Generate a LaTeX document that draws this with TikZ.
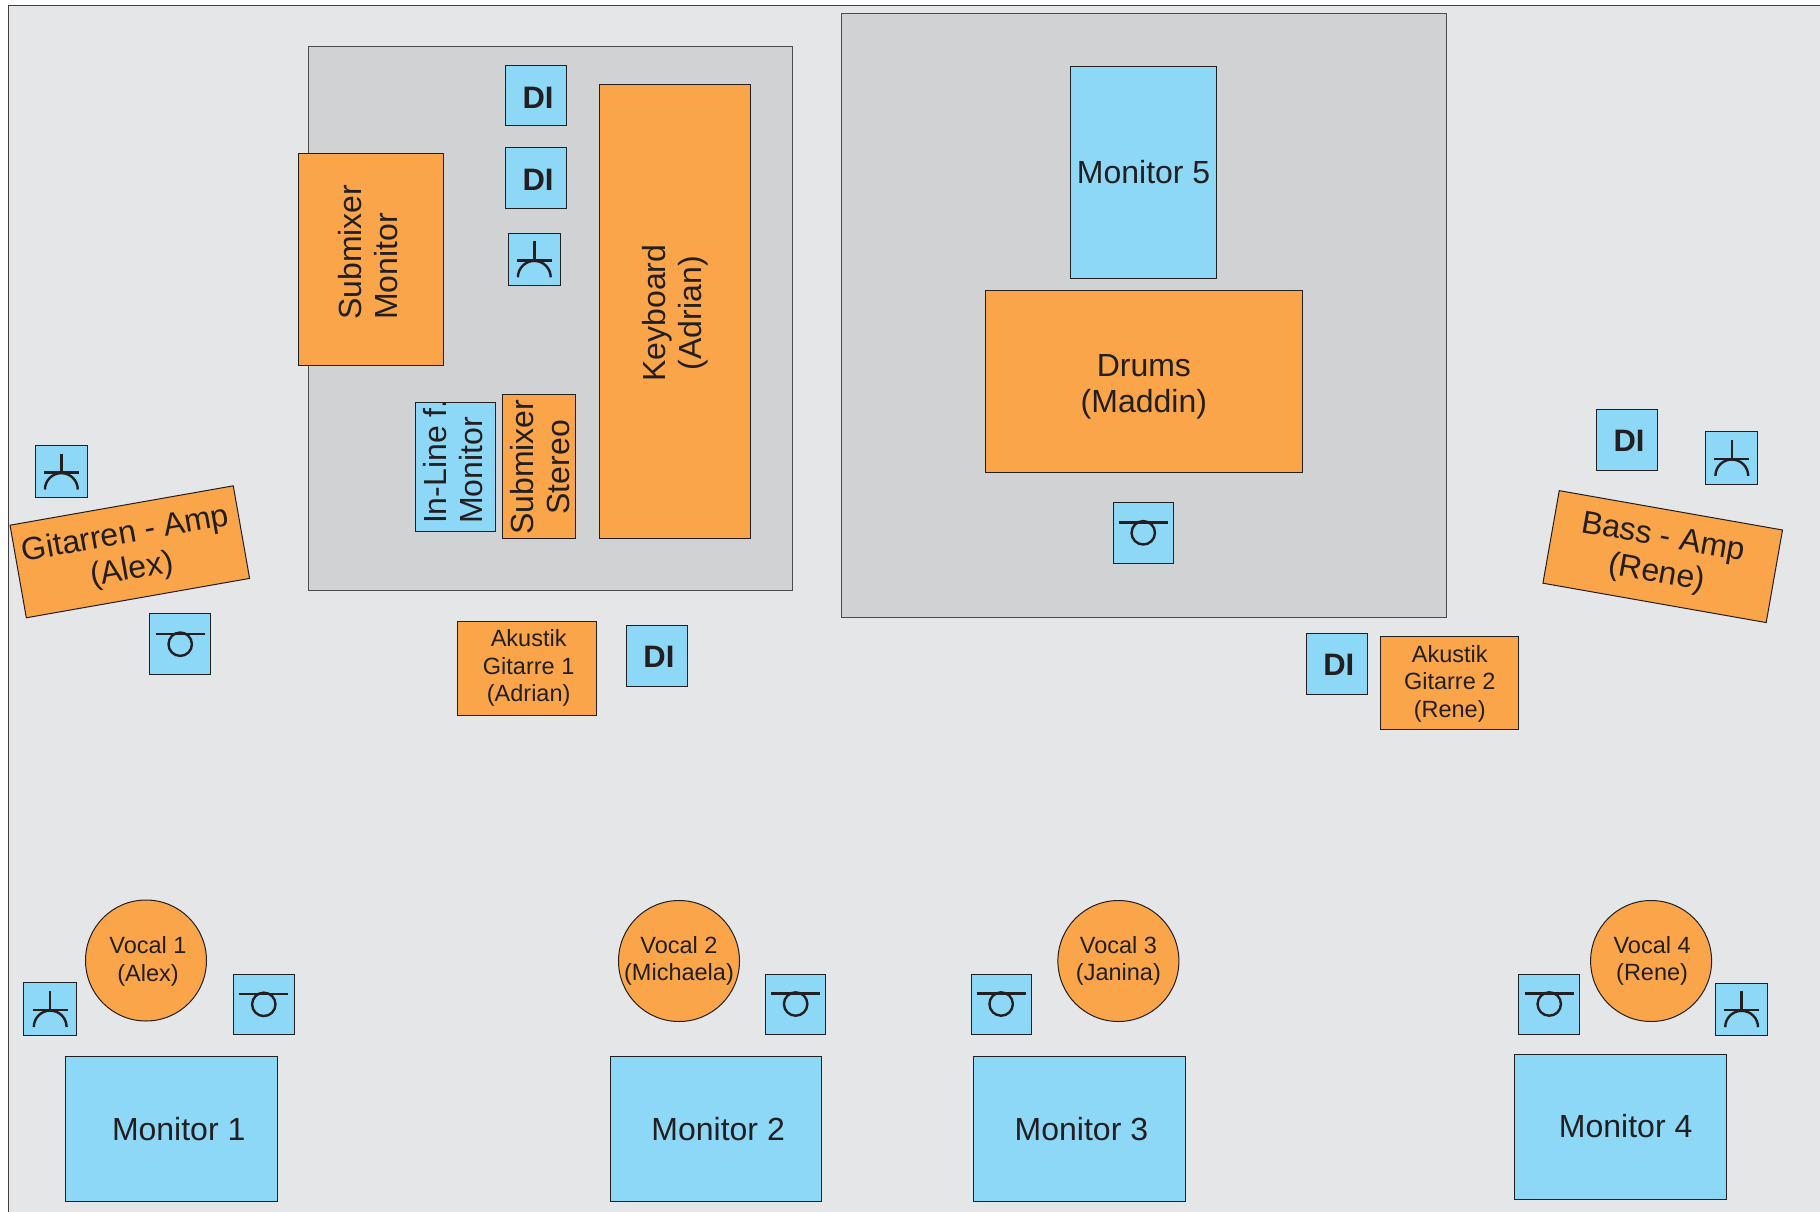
\documentclass[tikz,border=0pt]{standalone}
\usepackage{fontspec}
\setmainfont{Liberation Sans}
\definecolor{bgc}{HTML}{E5E6E8}
\definecolor{grayc}{HTML}{D1D2D4}
\definecolor{bluec}{HTML}{8DD7F7}
\definecolor{orangec}{HTML}{FAA54A}
\definecolor{inkc}{HTML}{231F20}
\tikzset{
  shp/.style={draw=inkc,line width=1pt,inner sep=0pt,outer sep=0pt,rectangle},
  stagebox/.style={shp,fill=grayc,draw=inkc!80!white},
  bluebox/.style={shp,fill=bluec},
  orangebox/.style={shp,fill=orangec},
  orangecirc/.style={draw=inkc,line width=1pt,inner sep=0pt,outer sep=0pt,circle,fill=orangec,minimum size=121pt},
  lab/.style={text=inkc,align=center,inner sep=0pt},
  fbig/.style={font=\fontsize{32}{36}\selectfont},
  fsmall/.style={font=\fontsize{23.5}{27.5}\selectfont},
  fdi/.style={font=\fontsize{31}{36}\selectfont\bfseries},
  sym/.style={draw=inkc,line width=2.4pt},
  pics/micstand/.style={code={
    \draw[sym] (0,-18) -- (0,1) (-17.5,1) -- (17.5,1);
    \draw[sym] (-16.4,18) arc[start angle=180,end angle=360,radius=16.4];
  }},
  pics/micbox/.style={code={
    \draw[sym] (-24.5,-10.5) -- (24.5,-10.5);
    \draw[sym] (0,0) circle[radius=11.7];
  }}
}
% name, style, x1,y1,x2,y2, label options, text
\newcommand\bx[8]{%
  \pgfmathsetmacro\bcx{(#3+#5)/2}\pgfmathsetmacro\bcy{(#4+#6)/2}%
  \pgfmathsetmacro\bw{#5-#3}\pgfmathsetmacro\bh{#6-#4}%
  \node[#2,minimum width=\bw pt,minimum height=\bh pt,label={[lab,#7]center:{#8}}] (#1) at (\bcx,\bcy) {};%
}
\begin{document}
\begin{tikzpicture}[x=1pt,y=-1pt]
\useasboundingbox (0,0) rectangle (1820,1212);
\clip (0,0) rectangle (1820,1212);
\fill[white] (0,0) rectangle (1820,1212);
\draw[fill=bgc,draw=inkc!85!white,line width=1.4pt] (8.5,5.5) rectangle (1840,1240);
% stages
\bx{stageL}{stagebox}{308.7}{46.4}{792.8}{590.8}{}{}
\bx{stageR}{stagebox}{841}{13.3}{1446.3}{617.5}{}{}
% keyboard riser
\bx{di1}{bluebox}{505.7}{65.3}{566.3}{125.7}{fdi,xshift=2pt,yshift=-2pt}{DI}
\bx{di2}{bluebox}{505.7}{148}{566.3}{208.3}{fdi,xshift=2pt,yshift=-2pt}{DI}
\bx{mic1}{bluebox}{508.3}{233.3}{560.3}{285.3}{}{}
\pic at (mic1.center) {micstand};
\bx{submon}{orangebox}{298}{153.7}{443.3}{365.6}{fbig,align=left,xshift=-3pt,yshift=7.5pt,rotate=90}{Submixer\\Monitor}
\bx{keys}{orangebox}{599.3}{84.3}{750.4}{538}{fbig,yshift=-2pt,rotate=90}{Keyboard\\(Adrian)}
\bx{inline}{bluebox}{415}{402.8}{495.6}{531.6}{fbig,align=left,xshift=-2pt,yshift=5.5pt,rotate=90}{In-Line f.\\Monitor}
\bx{substereo}{orangebox}{502}{394.6}{575.7}{538}{fbig,xshift=1pt,yshift=-1pt,rotate=90}{Submixer\\Stereo}
\bx{ak1}{orangebox}{457.3}{621}{596}{715}{fsmall,xshift=2pt}{Akustik\\Gitarre 1\\(Adrian)}
\bx{di3}{bluebox}{626.8}{625.6}{687.1}{686}{fdi,xshift=2pt,yshift=-1pt}{DI}
% drums
\bx{mon5}{bluebox}{1070.8}{66.2}{1216.4}{278}{fbig}{Monitor 5}
\bx{drums}{orangebox}{985.4}{290.8}{1302.3}{472.4}{fbig,yshift=-5pt}{Drums\\(Maddin)}
\bx{mic2}{bluebox}{1113}{502.6}{1173.5}{563}{}{}
\pic at (mic2.center) {micbox};
% left amp
\bx{mic3}{bluebox}{35}{445.3}{87.7}{497.7}{}{}
\pic at (mic3.center) {micstand};
\bx{mic4}{bluebox}{149.7}{613.7}{210.7}{674.7}{}{}
\pic at (mic4.center) {micbox};
\node[orangebox,minimum width=226.7pt,minimum height=94pt,rotate=10,label={[lab,fbig,xshift=-1pt,yshift=-1pt,rotate=10]center:{Gitarren - Amp\\(Alex)}}] (gamp) at (129.8,551.8) {};
% right amp
\bx{di4}{bluebox}{1596.5}{409.7}{1657.5}{470}{fdi,xshift=2pt,yshift=-1pt}{DI}
\bx{mic5}{bluebox}{1705.7}{431.8}{1757.9}{484}{}{}
\pic at (mic5.center) {micstand};
\node[orangebox,minimum width=226.7pt,minimum height=94pt,rotate=-10,label={[lab,fbig,xshift=-3pt,rotate=-10]center:{Bass - Amp\\(Rene)}}] (bamp) at (1662.7,556.6) {};
\bx{di5}{bluebox}{1306.4}{633.7}{1367.3}{694.7}{fdi,xshift=2pt,yshift=-1pt}{DI}
\bx{ak2}{orangebox}{1380.6}{636}{1518.8}{729.5}{fsmall,yshift=-1pt}{Akustik\\Gitarre 2\\(Rene)}
% front line
\node[orangecirc,label={[lab,fsmall,xshift=2pt,yshift=-1pt]center:{Vocal 1\\(Alex)}}] (voc1) at (146,960.5) {};
\bx{mic6}{bluebox}{23.7}{982.7}{76.7}{1035.3}{}{}
\pic at (mic6.center) {micstand};
\bx{mic7}{bluebox}{233.3}{974}{294.3}{1034.7}{}{}
\pic at (mic7.center) {micbox};
\bx{mon1}{bluebox}{65.7}{1056.3}{277.7}{1201.7}{fbig,xshift=7pt,yshift=0pt}{Monitor 1}
\node[orangecirc,label={[lab,fsmall]center:{Vocal 2\\(Michaela)}}] (voc2) at (679,961) {};
\bx{mic8}{bluebox}{765.5}{974}{825.8}{1034}{}{}
\pic at (mic8.center) {micbox};
\bx{mon2}{bluebox}{610.5}{1056}{821.8}{1201}{fbig,xshift=2pt,yshift=-1pt}{Monitor 2}
\node[orangecirc,label={[lab,fsmall]center:{Vocal 3\\(Janina)}}] (voc3) at (1118.4,961) {};
\bx{mic9}{bluebox}{971}{974}{1031.3}{1034}{}{}
\pic at (mic9.center) {micbox};
\bx{mon3}{bluebox}{973.8}{1056}{1185}{1201}{fbig,xshift=2pt,yshift=-1pt}{Monitor 3}
\node[orangecirc,label={[lab,fsmall,xshift=1pt]center:{Vocal 4\\(Rene)}}] (voc4) at (1651.1,961) {};
\bx{mic10}{bluebox}{1518.8}{974}{1579.7}{1034}{}{}
\pic at (mic10.center) {micbox};
\bx{mic11}{bluebox}{1715.5}{983}{1767.7}{1035.4}{}{}
\pic at (mic11.center) {micstand};
\bx{mon4}{bluebox}{1514.7}{1054}{1726.6}{1199}{fbig,xshift=5pt}{Monitor 4}
\end{tikzpicture}
\end{document}
